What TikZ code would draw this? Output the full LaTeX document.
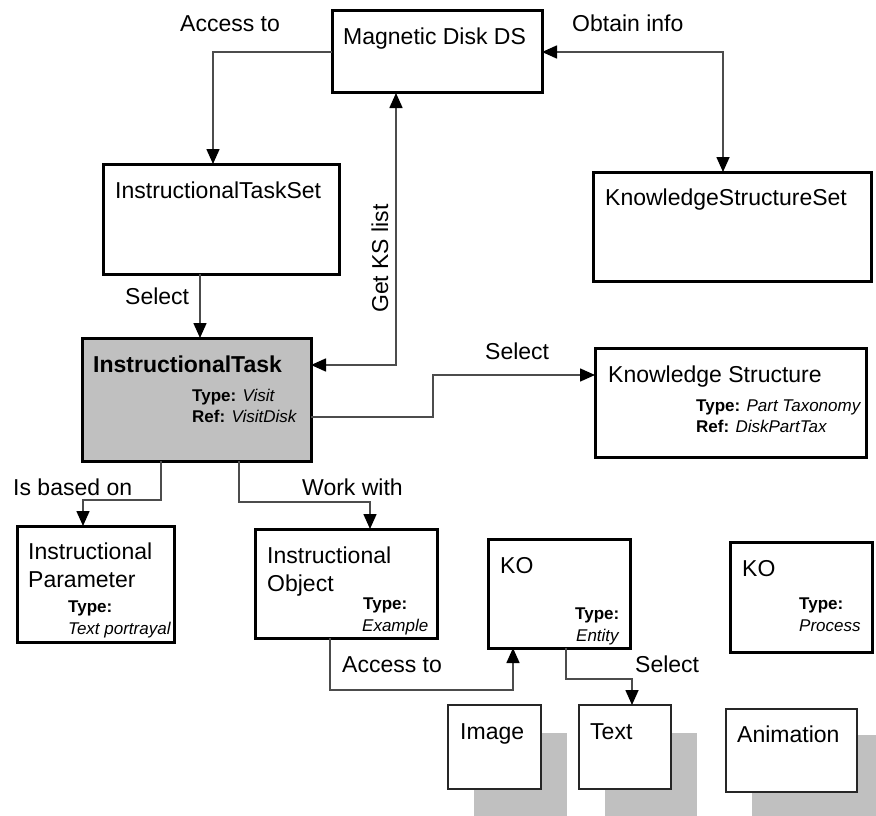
\documentclass[tikz,border=0pt]{standalone}
\usepackage{fontspec}
\setmainfont{Liberation Sans}
\usetikzlibrary{arrows.meta,calc}
\definecolor{shade}{HTML}{C0C0C0}
\begin{document}
\begin{tikzpicture}[x=1pt,y=-1pt,
  box/.style={draw=black, line width=3pt, fill=white, anchor=north west, inner sep=0pt, outer sep=0pt},
  media/.style={draw=black!85, line width=1.5pt, fill=white, anchor=north west, inner sep=0pt, outer sep=0pt},
  shadowbox/.style={fill=shade, anchor=north west, inner sep=0pt, outer sep=0pt},
  conn/.style={draw=black!70, line width=1.6pt},
  arr/.style={-{Triangle[length=15pt,width=13pt,black]}},
  arrs/.style={{Triangle[length=15pt,width=13pt,black]}-{Triangle[length=15pt,width=13pt,black]}},
  lab/.style={anchor=base west, inner sep=0pt, font=\fontsize{23}{27}\selectfont},
  small/.style={anchor=base west, inner sep=0pt, font=\fontsize{17}{20}\selectfont},
]
\clip (0,0) rectangle (876,816);

% drop shadows of the media boxes
\node[shadowbox, minimum width=93pt, minimum height=84pt] (imgsh) at (474,733) {};
\node[shadowbox, minimum width=92pt, minimum height=84pt] (txtsh) at (605,733) {};
\node[shadowbox, minimum width=131pt, minimum height=83pt] (animsh) at (752,735) {};

% boxes
\node[box, minimum width=210pt, minimum height=82pt] (mds) at (332,11) {};
\node[box, minimum width=236pt, minimum height=110pt] (its) at (103,164) {};
\node[box, minimum width=278pt, minimum height=109pt] (kss) at (593,172) {};
\node[box, fill=shade, minimum width=229pt, minimum height=123pt] (it) at (82,338) {};
\node[box, minimum width=271pt, minimum height=109pt] (ks) at (595,348) {};
\node[box, minimum width=157pt, minimum height=116pt] (ip) at (17,526) {};
\node[box, minimum width=182pt, minimum height=109pt] (io) at (255,529) {};
\node[box, minimum width=142pt, minimum height=109pt] (ko1) at (488,539) {};
\node[box, minimum width=142pt, minimum height=110pt] (ko2) at (730,542) {};
\node[media, minimum width=93pt, minimum height=84pt] (img) at (448,705) {};
\node[media, minimum width=92pt, minimum height=84pt] (txt) at (579,705) {};
\node[media, minimum width=131pt, minimum height=83pt] (anim) at (726,709) {};

% connectors
\draw[conn, arr] (mds.west) -| ($(its.north west)+(110,0)$);
\draw[conn, arrs] (mds.east) -| ($(kss.north west)+(130,0)$);
\draw[conn, arr] ($(its.south west)+(97,0)$) -- ($(it.north west)+(118,0)$);
\draw[conn, arrs] ($(mds.south west)+(64,0)$) |- ($(it.north east)+(0,27)$);
\draw[conn, arr] ($(it.north east)+(0,79)$) -- ++(122,0) |- ($(ks.north west)+(0,27)$);
\draw[conn, arr] ($(it.south west)+(79,0)$) -- ++(0,39) -| ($(ip.north west)+(66,0)$);
\draw[conn, arr] ($(it.south west)+(157,0)$) -- ++(0,41) -| ($(io.north west)+(115,0)$);
\draw[conn, arr] ($(io.south west)+(75,0)$) -- ++(0,52) -| ($(ko1.south west)+(25,0)$);
\draw[conn, arr] ($(ko1.south west)+(78,0)$) -- ++(0,31) -| ($(txt.north west)+(53,0)$);

% connector labels
\node[lab] (l-access) at (180,32) {Access to};
\node[lab] (l-obtain) at (572,32) {Obtain info};
\node[lab] (l-select1) at (125,304) {Select};
\node[lab, rotate=90] (l-getks) at (388,313) {Get KS list};
\node[lab] (l-select2) at (485,359) {Select};
\node[lab] (l-based) at (13,495) {Is based on};
\node[lab] (l-work) at (302,495) {Work with};
\node[lab] (l-access2) at (342,672) {Access to};
\node[lab] (l-select3) at (635,672) {Select};

% box texts
\node[lab] (t-mds) at (343,45) {Magnetic Disk DS};
\node[lab] (t-its) at (115,198) {InstructionalTaskSet};
\node[lab] (t-kss) at (605,205) {KnowledgeStructureSet};
\node[lab, font=\fontsize{23}{27}\selectfont\bfseries] (t-it) at (93,372) {InstructionalTask};
\node[small] (t-it-type) at (192,401) {\textbf{Type:} \textit{Visit}};
\node[small] (t-it-ref) at (192,422) {\textbf{Ref:} \textit{VisitDisk}};
\node[lab] (t-ks) at (608,382) {Knowledge Structure};
\begin{scope}
  \clip (ks.north west) rectangle (ks.south east);
  \node[small] (t-ks-type) at (696,411) {\textbf{Type:} \textit{Part Taxonomy}};
\end{scope}
\node[small] (t-ks-ref) at (696,432) {\textbf{Ref:} \textit{DiskPartTax}};
\node[lab] (t-ip1) at (28,559) {Instructional};
\node[lab] (t-ip2) at (28,587) {Parameter};
\node[small] (t-ip-type) at (68,612) {\textbf{Type:}};
\begin{scope}
  \clip (ip.north west) rectangle (ip.south east);
  \node[small] (t-ip-val) at (68,634) {\textit{Text portrayal}};
\end{scope}
\node[lab] (t-io1) at (267,563) {Instructional};
\node[lab] (t-io2) at (267,591) {Object};
\node[small] (t-io-type) at (363,609) {\textbf{Type:}};
\node[small] (t-io-val) at (362,631) {\textit{Example}};
\node[lab] (t-ko1) at (500,573) {KO};
\node[small] (t-ko1-type) at (575,619) {\textbf{Type:}};
\node[small] (t-ko1-val) at (576,641) {\textit{Entity}};
\node[lab] (t-ko2) at (742,576) {KO};
\node[small] (t-ko2-type) at (799,609) {\textbf{Type:}};
\node[small] (t-ko2-val) at (799,631) {\textit{Process}};
\node[lab] (t-img) at (460,739) {Image};
\node[lab] (t-txt) at (590,739) {Text};
\node[lab] (t-anim) at (737,742) {Animation};
\end{tikzpicture}
\end{document}
